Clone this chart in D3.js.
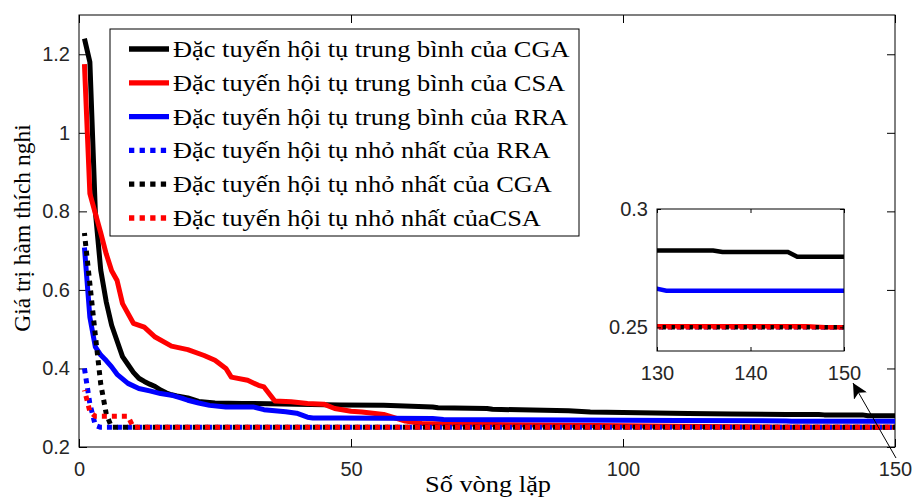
<!DOCTYPE html>
<html>
<head>
<meta charset="utf-8">
<script src="https://cdn.jsdelivr.net/npm/d3@7"></script>
<style>
  body { margin: 0; background: #fff; }
  svg { display: block; }
</style>
</head>
<body>
<div id="chart"></div>
<script>
// tick values / labels
var iterTicks = [0, 50, 100, 150];
var fitTicks = [0.2, 0.4, 0.6, 0.8, 1, 1.2];
var fitTickLabels = ["0.2", "0.4", "0.6", "0.8", "1", "1.2"];
var insetIterTicks = [130, 140, 150];
var insetFitTicks = [0.25, 0.3];
var insetFitLabels = ["0.25", "0.3"];

// series (iteration, fitness)
var cgaMeanX = [1,2,3,4,5,6,7,8,9,10,11,12,13,14,15,16,17,18,20,22,25,30,40,48,56,65,66,75,76,90,94,100,106,112,120,130,136,137,144,145,150];
var cgaMeanY = [1.24,1.18,0.80,0.65,0.57,0.51,0.47,0.43,0.41,0.39,0.375,0.367,0.36,0.354,0.345,0.338,0.333,0.330,0.325,0.316,0.312,0.311,0.309,0.307,0.306,0.302,0.300,0.298,0.296,0.292,0.289,0.288,0.2865,0.285,0.284,0.2825,0.2825,0.2818,0.2818,0.2798,0.2798];

var csaMeanX = [1,2,3,4,5,6,7,8,10,12,14,17,20,23,25,27,28,31,33,34,36,39,42,45,47,50,52,56,60,63,70,80,100,120,130,146,148,150];
var csaMeanY = [1.175,0.845,0.795,0.745,0.692,0.649,0.624,0.565,0.515,0.505,0.48,0.457,0.448,0.433,0.421,0.40,0.378,0.37,0.357,0.353,0.317,0.315,0.311,0.309,0.298,0.291,0.289,0.283,0.266,0.260,0.2585,0.2565,0.254,0.2515,0.2505,0.2505,0.25,0.25];

var rraMeanX = [1,2,3,4,5,6,7,9,11,13,15,17,19,20,22,24,27,32,34,38,40,42,43,48,65,67,90,110,130,131,150];
var rraMeanY = [0.708,0.53,0.455,0.434,0.42,0.404,0.385,0.362,0.349,0.343,0.336,0.332,0.324,0.319,0.312,0.306,0.302,0.302,0.295,0.29,0.286,0.276,0.274,0.274,0.2725,0.270,0.269,0.2675,0.2663,0.2655,0.2655];

var rraMinX = [1,2,3,4,150];
var rraMinY = [0.40,0.31,0.255,0.25,0.25];

var cgaMinX = [1,2,3,4,5,6,150];
var cgaMinY = [0.745,0.615,0.485,0.36,0.285,0.25,0.25];

var csaMinX = [1,2,3,9,10,150];
var csaMinY = [0.345,0.29,0.278,0.278,0.25,0.25];

var legendLabels = [
	"Đặc tuyến hội tụ trung bình của CGA",
	"Đặc tuyến hội tụ trung bình của CSA",
	"Đặc tuyến hội tụ trung bình của RRA",
	"Đặc tuyến hội tụ nhỏ nhất của RRA",
	"Đặc tuyến hội tụ nhỏ nhất của CGA",
	"Đặc tuyến hội tụ nhỏ nhất củaCSA"
];

function zip(xs, ys) {
	return xs.map(function(x, i) { return [x, ys[i]]; });
}

var series = [
	{ pts: zip(cgaMeanX, cgaMeanY), color: "#000000", dotted: false },
	{ pts: zip(csaMeanX, csaMeanY), color: "#ff0000", dotted: false },
	{ pts: zip(rraMeanX, rraMeanY), color: "#0000ff", dotted: false },
	{ pts: zip(rraMinX, rraMinY), color: "#0000ff", dotted: true },
	{ pts: zip(cgaMinX, cgaMinY), color: "#000000", dotted: true },
	{ pts: zip(csaMinX, csaMinY), color: "#ff0000", dotted: true }
];

var width = 914, height = 497;
var serif = "'Liberation Serif', 'Times New Roman', serif";
var sans = "'Liberation Sans', Arial, sans-serif";
var stretch = 1.1; // the original figure is a bit wider than tall

var svg = d3.select("#chart").append("svg")
	.attr("width", width)
	.attr("height", height);

var x = d3.scaleLinear().domain([0, 150]).range([79, 895]);
var y = d3.scaleLinear().domain([0.2, 1.3]).range([447, 15]);

svg.append("defs").append("clipPath").attr("id", "plotClip")
	.append("rect")
	.attr("x", x(0)).attr("y", y(1.3))
	.attr("width", x(150) - x(0)).attr("height", y(0.2) - y(1.3));

function styleAxis(g, size) {
	g.select(".domain").remove();
	g.selectAll("line").attr("stroke", "#000").attr("stroke-width", 1);
	g.selectAll("text")
		.attr("fill", "#262626")
		.style("font-family", sans)
		.style("font-size", size + "px");
}

// axes
svg.append("g")
	.attr("transform", "translate(0," + y(0.2) + ")")
	.call(d3.axisBottom(x).tickValues(iterTicks).tickSizeInner(-8).tickSizeOuter(0).tickPadding(15))
	.call(styleAxis, 20);
svg.append("g")
	.attr("transform", "translate(0," + y(1.3) + ")")
	.call(d3.axisTop(x).tickValues(iterTicks).tickSizeInner(-8).tickSizeOuter(0).tickFormat(""))
	.call(styleAxis, 20);
svg.append("g")
	.attr("transform", "translate(" + x(0) + ",0)")
	.call(d3.axisLeft(y).tickValues(fitTicks).tickSizeInner(-8).tickSizeOuter(0).tickPadding(9)
		.tickFormat(function(d, i) { return fitTickLabels[i]; }))
	.call(styleAxis, 20);
svg.append("g")
	.attr("transform", "translate(" + x(150) + ",0)")
	.call(d3.axisRight(y).tickValues(fitTicks).tickSizeInner(-8).tickSizeOuter(0).tickFormat(""))
	.call(styleAxis, 20);

svg.append("rect")
	.attr("x", x(0)).attr("y", y(1.3))
	.attr("width", x(150) - x(0)).attr("height", y(0.2) - y(1.3))
	.attr("fill", "none").attr("stroke", "#000").attr("stroke-width", 1);

// curves
var line = d3.line()
	.x(function(d) { return x(d[0]); })
	.y(function(d) { return y(d[1]); });

svg.append("g").attr("clip-path", "url(#plotClip)")
	.selectAll("path")
	.data(series).enter()
	.append("path")
	.attr("d", function(d) { return line(d.pts); })
	.attr("fill", "none")
	.attr("stroke", function(d) { return d.color; })
	.attr("stroke-width", 5)
	.attr("stroke-linejoin", "round")
	.attr("stroke-dasharray", function(d, i) { return d.dotted ? "5,5" : null; })
	.attr("stroke-dashoffset", function(d, i) { return d.dotted ? (i - 3) * 2 : null; });

// axis titles
svg.append("text")
	.attr("transform", "translate(" + ((x(0) + x(150)) / 2 + 1) + ",492) scale(" + stretch + ",1)")
	.attr("text-anchor", "middle")
	.style("font-family", serif)
	.style("font-size", "24px")
	.text("Số vòng lặp");

svg.append("text")
	.attr("transform", "translate(30,228) rotate(-90)")
	.attr("text-anchor", "middle")
	.style("font-family", serif)
	.style("font-size", "23.5px")
	.text("Giá trị hàm thích nghi");

// legend
var legend = svg.append("g").attr("transform", "translate(110,29)");
legend.append("rect")
	.attr("width", 469).attr("height", 207)
	.attr("fill", "#fff").attr("stroke", "#000").attr("stroke-width", 1);

var rows = legend.selectAll(".row")
	.data(series).enter()
	.append("g")
	.attr("transform", function(d, i) { return "translate(0," + (20 + i * 33.8) + ")"; });

rows.append("line")
	.attr("x1", 19).attr("x2", 59)
	.attr("stroke", function(d) { return d.color; })
	.attr("stroke-width", 5.3)
	.attr("stroke-dasharray", function(d) { return d.dotted ? "5.3,5.3" : null; });

rows.append("text")
	.attr("transform", "translate(63,8) scale(" + stretch + ",1)")
	.style("font-family", serif)
	.style("font-size", "24px")
	.text(function(d, i) { return legendLabels[i]; });

// inset zoom
var ix = d3.scaleLinear().domain([130, 150]).range([657, 844]);
var iy = d3.scaleLinear().domain([0.24, 0.3]).range([351, 209]);

svg.append("defs").append("clipPath").attr("id", "insetClip")
	.append("rect")
	.attr("x", ix(130)).attr("y", iy(0.3))
	.attr("width", ix(150) - ix(130)).attr("height", iy(0.24) - iy(0.3));

svg.append("rect")
	.attr("x", ix(130)).attr("y", iy(0.3))
	.attr("width", ix(150) - ix(130)).attr("height", iy(0.24) - iy(0.3))
	.attr("fill", "#fff");

var iline = d3.line()
	.x(function(d) { return ix(d[0]); })
	.y(function(d) { return iy(d[1]); });

svg.append("g").attr("clip-path", "url(#insetClip)")
	.selectAll("path")
	.data(series).enter()
	.append("path")
	.attr("d", function(d) { return iline(d.pts); })
	.attr("fill", "none")
	.attr("stroke", function(d) { return d.color; })
	.attr("stroke-width", 4.5)
	.attr("stroke-dasharray", function(d) { return d.dotted ? "4,5" : null; })
	.attr("stroke-dashoffset", function(d, i) { return d.dotted ? (i - 3) * 3 : null; });

svg.append("g")
	.attr("transform", "translate(0," + iy(0.24) + ")")
	.call(d3.axisBottom(ix).tickValues(insetIterTicks).tickSizeInner(-4).tickSizeOuter(0).tickPadding(15))
	.call(styleAxis, 20);
svg.append("g")
	.attr("transform", "translate(0," + iy(0.3) + ")")
	.call(d3.axisTop(ix).tickValues(insetIterTicks).tickSizeInner(-4).tickSizeOuter(0).tickFormat(""))
	.call(styleAxis, 20);
svg.append("g")
	.attr("transform", "translate(" + ix(130) + ",0)")
	.call(d3.axisLeft(iy).tickValues(insetFitTicks).tickSizeInner(-4).tickSizeOuter(0).tickPadding(9)
		.tickFormat(function(d, i) { return insetFitLabels[i]; }))
	.call(styleAxis, 20);
svg.append("g")
	.attr("transform", "translate(" + ix(150) + ",0)")
	.call(d3.axisRight(iy).tickValues(insetFitTicks).tickSizeInner(-4).tickSizeOuter(0).tickFormat(""))
	.call(styleAxis, 20);

svg.append("rect")
	.attr("x", ix(130)).attr("y", iy(0.3))
	.attr("width", ix(150) - ix(130)).attr("height", iy(0.24) - iy(0.3))
	.attr("fill", "none").attr("stroke", "#000").attr("stroke-width", 1);

// arrow from the end of the main curves to the inset
svg.append("defs").append("marker")
	.attr("id", "arrowHead")
	.attr("viewBox", "0 0 10 10")
	.attr("refX", 10).attr("refY", 5)
	.attr("markerWidth", 15).attr("markerHeight", 15)
	.attr("markerUnits", "userSpaceOnUse")
	.attr("orient", "auto")
	.append("path")
	.attr("d", "M0,0 L10,5 L0,10 L2.5,5 Z")
	.attr("fill", "#000");

svg.append("line")
	.attr("x1", x(150) + 1).attr("y1", y(0.2) + 11)
	.attr("x2", ix(150) + 9).attr("y2", iy(0.24) + 32)
	.attr("stroke", "#000")
	.attr("stroke-width", 1)
	.attr("marker-end", "url(#arrowHead)");
</script>
</body>
</html>
